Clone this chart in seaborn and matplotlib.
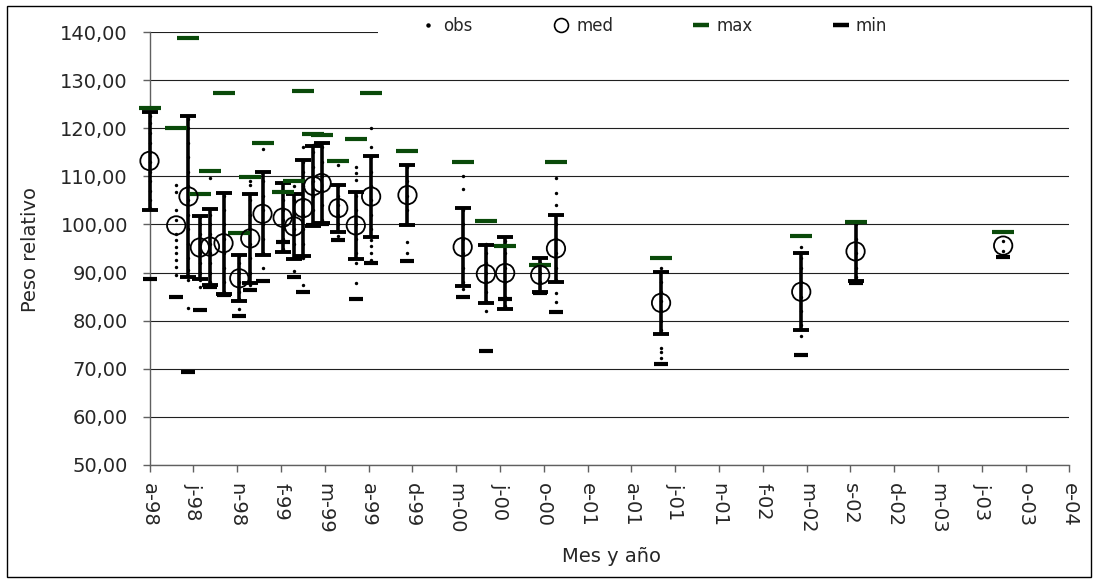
import matplotlib
matplotlib.use("Agg")
import matplotlib.pyplot as plt
import seaborn as sns
import pandas as pd
import numpy as np
from matplotlib.lines import Line2D
from matplotlib.patches import Rectangle
from matplotlib.ticker import FuncFormatter

# ---------------- data ----------------
tick_labels = ["a-98", "j-98", "n-98", "f-99", "m-99", "a-99", "d-99", "m-00",
               "j-00", "o-00", "e-01", "a-01", "j-01", "n-01", "f-02", "m-02",
               "s-02", "d-02", "m-03", "j-03", "o-03", "e-04"]

# sampling position, in units of the tick interval (0 = a-98)
pos = [0.00, 0.61, 0.89, 1.15, 1.38, 1.69, 2.05, 2.30, 2.58, 3.04, 3.30, 3.51,
       3.74, 3.93, 4.31, 4.71, 5.06, 5.89, 7.15, 7.68, 8.12, 8.92, 9.28,
       11.68, 14.88, 16.12, 19.49]

med = [113.2, 99.8, 105.8, 95.2, 95.4, 96.1, 88.8, 97.1, 102.2, 101.4, 99.6,
       103.4, 108.0, 108.6, 103.4, 99.8, 105.8, 106.1, 95.3, 89.7, 89.9, 89.5,
       95.0, 83.7, 86.0, 94.4, 95.6]

sd = [10.1, np.nan, 16.8, 6.6, 7.9, 10.5, 4.75, 9.2, 8.6, 7.2, 6.7, 10.0,
      8.3, 8.3, 4.9, 7.0, 8.5, 6.3, 8.1, 6.0, 7.5, 3.5, 6.9, 6.4, 8.0, 6.2,
      np.nan]

maxv = [124.1, 120.1, 138.7, 106.3, 111.2, 127.4, 98.3, 109.9, 116.9, 106.7,
        109.1, 127.7, 118.8, 118.6, 113.2, 117.7, 127.4, 115.3, 112.9, 100.8,
        95.5, 91.5, 113.0, 93.1, 97.6, 100.5, 98.5]

minv = [88.6, 85.0, 69.3, 82.3, 87.0, 85.3, 81.0, 86.3, 88.3, 96.3, 89.1,
        85.9, 99.9, 100.0, 96.8, 84.6, 91.9, 92.3, 85.0, 73.7, 84.6, 85.7,
        81.8, 70.9, 72.9, 87.9, 93.3]

obs = [
    [103.5, 105, 107, 109, 111, 113, 115, 117, 119, 121, 122.5],
    [89.5, 91.2, 92.6, 94.0, 95.4, 96.8, 98.1, 101.0, 103.0, 106.8, 108.2],
    [82.6, 88.5, 90.5, 93, 96, 99, 102, 105, 108, 111, 114, 117, 120, 122],
    [86.9, 88.5, 90, 92, 94, 96, 98, 100, 101.5],
    [88, 90, 92, 94, 96, 98, 100, 102, 109.6],
    [86, 88, 91, 94, 97, 100, 103, 106],
    [82.5, 84.4, 86, 88, 90, 92, 93.5],
    [87.5, 90, 93, 96, 99, 102, 105, 108.2, 109.0],
    [91.0, 94, 97, 100, 103, 106, 109, 115.6],
    [95, 97, 99, 101, 103, 105, 107],
    [90.3, 93.5, 96, 99, 102, 105, 108],
    [87.4, 93, 96, 99, 102, 105, 108, 111, 113, 116.2],
    [100.5, 103, 106, 109, 112, 115, 116.5],
    [101, 104, 107, 110, 113, 116],
    [97.5, 100, 102, 104, 106, 108, 112.3],
    [87.9, 92, 94, 97, 100, 103, 106, 109.2, 110.6, 112.0],
    [92.6, 94, 95.5, 96.8, 99, 102, 105, 108, 111, 114, 116.2, 120.1],
    [94.0, 96.4, 100, 103, 106, 109, 112],
    [86.5, 88, 91, 94, 97, 100, 103, 107.3, 110.1],
    [82.1, 84, 86, 88, 90, 92, 94, 96],
    [83, 85, 88, 91, 94, 96.5],
    [86, 88, 90, 92],
    [83.8, 85.8, 88.5, 91, 94, 97, 100, 104.0, 106.5, 109.7],
    [72.3, 73.4, 74.4, 78, 80, 82, 84, 86, 88, 91.0],
    [76.8, 79, 82, 85, 88, 91, 93, 95.4],
    [89, 91, 94, 97, 100],
    [94.5, 96.5],
]

# ---------------- frames ----------------
summary = pd.DataFrame({"pos": pos, "med": med, "sd": sd, "maxv": maxv, "minv": minv})
obs_df = pd.DataFrame({
    "pos": np.repeat(pos, [len(o) for o in obs]),
    "val": np.concatenate([np.asarray(o, float) for o in obs]),
})
bars = summary.dropna(subset=["sd"])

# ---------------- style ----------------
sns.set_theme(style="white")
plt.rcParams["font.family"] = ["DejaVu Sans"]
GREEN = "#0a4a0a"
AXC = "#606060"

W, H = 1098, 583
fig = plt.figure(figsize=(W / 100, H / 100), dpi=100)
fig.patch.set_facecolor("white")
ax = fig.add_axes([149.5 / W, (H - 465) / H, 919.8 / W, 433 / H])

# observations
sns.scatterplot(data=obs_df, x="pos", y="val", ax=ax, color="black", s=6,
                linewidth=0, marker="o", zorder=2, clip_on=False, legend=False)
# +- bars
ax.errorbar(bars["pos"], bars["med"], yerr=bars["sd"], fmt="none",
            ecolor="black", elinewidth=2.6, capsize=6, capthick=2.8,
            zorder=3, clip_on=False)
# max / min dashes
sns.scatterplot(data=summary, x="pos", y="maxv", ax=ax, marker="_", s=230,
                color=GREEN, linewidth=3.0, zorder=4, clip_on=False, legend=False)
sns.scatterplot(data=summary, x="pos", y="minv", ax=ax, marker="_", s=110,
                color="black", linewidth=3.0, zorder=4, clip_on=False, legend=False)
# means
sns.scatterplot(data=summary, x="pos", y="med", ax=ax, marker="o", s=175,
                facecolors="none", edgecolor="black", linewidth=1.3,
                zorder=5, clip_on=False, legend=False)

# axes
ax.set_xlim(0, 21)
ax.set_ylim(50, 140)
ax.set_xticks(range(len(tick_labels)))
ax.set_xticklabels(tick_labels, rotation=-90, fontsize=14)
ax.set_yticks(np.arange(50, 141, 10))
ax.yaxis.set_major_formatter(FuncFormatter(lambda v, p: f"{v:.2f}".replace(".", ",")))
ax.tick_params(axis="y", labelsize=14, direction="out", length=5, width=1,
               color=AXC, pad=10.5, left=True)
ax.tick_params(axis="x", direction="out", length=5, width=1, color=AXC,
               pad=8, bottom=True)
ax.set_xlabel("")
ax.set_ylabel("")
ax.grid(axis="y", color="#202020", linewidth=0.8)
ax.grid(axis="x", visible=False)
ax.set_axisbelow(True)
for s in ["top", "right"]:
    ax.spines[s].set_visible(False)
for s in ["left", "bottom"]:
    ax.spines[s].set_color(AXC)
    ax.spines[s].set_linewidth(1.0)

# axis titles
fig.text(30 / W, 1 - 249 / H, "Peso relativo", rotation=90, ha="center",
         va="center", fontsize=14)
fig.text(611 / W, 1 - 557 / H, "Mes y año", ha="center", va="center",
         fontsize=14)

# legend background covering the top grid line
fig.patches.append(Rectangle((378 / W, 1 - 41 / H), (1075 - 378) / W, 17 / H,
                             transform=fig.transFigure, facecolor="white",
                             edgecolor="none", zorder=1))
handles = [
    Line2D([], [], linestyle="none", marker="o", markersize=2.2,
           color="black"),
    Line2D([], [], linestyle="none", marker="o", markersize=10,
           markerfacecolor="none", markeredgecolor="black", markeredgewidth=1.2),
    Line2D([], [], linestyle="none", marker="_", markersize=12,
           color=GREEN, markeredgewidth=3.2),
    Line2D([], [], linestyle="none", marker="_", markersize=12,
           color="black", markeredgewidth=3.2),
]
fig.legend(handles, ["obs", "med", "max", "min"], ncol=4, loc="center left",
           bbox_to_anchor=(420 / W, 1 - 26 / H), frameon=False,
           handlelength=1.0, handletextpad=0.4, columnspacing=4.8,
           borderpad=0, borderaxespad=0, fontsize=12)

# outer chart border
fig.patches.append(Rectangle((7 / W, 6 / H), (1091 - 7) / W, (577 - 6) / H,
                             transform=fig.transFigure, fill=False,
                             edgecolor="black", linewidth=1.0, zorder=0))

fig.savefig("out.png", dpi=100)
